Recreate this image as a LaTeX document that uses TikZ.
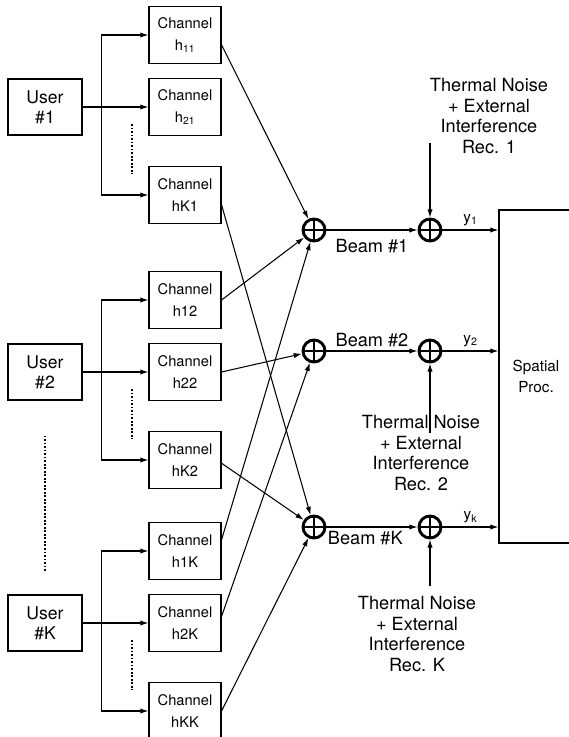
\documentclass[tikz,border=0pt]{standalone}
\usepackage{fontspec}
\setmainfont{TeX Gyre Heros}
\usetikzlibrary{shapes,arrows,arrows.meta,positioning}
\tikzstyle{user}  = [draw, minimum width=2.22cm, minimum height=1.68cm, align=center, font=\fontsize{15}{17}\selectfont]
\tikzstyle{chan}  = [draw, minimum width=2.16cm, minimum height=1.71cm, align=center, font=\fontsize{12.5}{18.5}\selectfont]
\tikzstyle{adder} = [draw, circle, line width=2.5pt, minimum size=0.66cm, inner sep=0pt, path picture={\draw [line width=1.9pt] (path picture bounding box.north) -- (path picture bounding box.south) (path picture bounding box.west) -- (path picture bounding box.east);}]
\tikzstyle{proc}  = [draw, minimum width=2.22cm, minimum height=9.99cm, align=center, font=\fontsize{13}{18.5}\selectfont]
\tikzstyle{noise} = [align=center, font=\fontsize{15.5}{17.5}\selectfont]
\tikzstyle{beam}  = [font=\fontsize{15.5}{17.5}\selectfont]
\tikzstyle{ylab}  = [font=\fontsize{13}{15}\selectfont]
\tikzstyle{line}  = [draw, -{Latex[length=7pt, width=4.5pt]}]
\tikzstyle{dots}  = [draw, line width=1.7pt, dash pattern=on 1.6pt off 1.4pt]

\begin{document}
\begin{tikzpicture}[auto, node distance=2.16cm, line width=0.9pt]
	\useasboundingbox (0,0) rectangle (17.07,-22.11);
	% Users and Channels %
	\node [user] (u1) at (1.35,-3.21) {User\\\#1};
	\node [chan, right of = u1, xshift=2.04cm] (h21) {Channel\\h\textsubscript{21}};
	\node [chan, above of = h21] (h11) {Channel\\h\textsubscript{11}};
	\node [chan, below of = h21, yshift=-0.48cm] (hK1) {Channel\\hK1};
	\node [user, below of = u1, yshift=-5.79cm] (u2) {User\\\#2};
	\node [chan, right of = u2, xshift=2.04cm] (h22) {Channel\\h22};
	\node [chan, above of = h22] (h12) {Channel\\h12};
	\node [chan, below of = h22, yshift=-0.48cm] (hK2) {Channel\\hK2};
	\node [user, below of = u2, yshift=-5.37cm] (uK) {User\\\#K};
	\node [chan, right of = uK, xshift=2.04cm] (h2K) {Channel\\h2K};
	\node [chan, above of = h2K] (h1K) {Channel\\h1K};
	\node [chan, below of = h2K, yshift=-0.48cm] (hKK) {Channel\\hKK};
	% Adders %
	\node [adder, right of = hK1, xshift=1.71cm, yshift=-1.05cm] (s1) {};
	\node [adder, right of = h22, xshift=1.71cm, yshift=0.63cm] (s2) {};
	\node [adder, right of = hK2, xshift=1.71cm, yshift=-2.01cm] (sK) {};
	\node [adder, right of = s1, xshift=1.32cm] (n1) {};
	\node [adder, right of = s2, xshift=1.32cm] (n2) {};
	\node [adder, right of = sK, xshift=1.32cm] (nK) {};
	\node [proc, right of = n2, xshift=1.02cm, yshift=-0.765cm] (proc) {Spatial\\Proc.};
	% Noise %
	\node [noise, above of = n1, xshift=1.77cm, yshift=1.26cm] (nz1) {Thermal Noise\\+ External\\Interference\\Rec. 1};
	\node [noise, below of = n2, xshift=-0.27cm, yshift=-0.9cm] (nz2) {Thermal Noise\\+ External\\Interference\\Rec. 2};
	\node [noise, below of = nK, xshift=-0.39cm, yshift=-1.05cm] (nzK) {Thermal Noise\\+ External\\Interference\\Rec. K};
	\coordinate [above of = n1, yshift=0.45cm] (t1);
	\coordinate [below of = n2, yshift=-0.3cm] (t2);
	\coordinate [below of = nK, yshift=0.39cm] (tK);
	% Fan out %
	\path [line] (u1.east) -- (h21.west);
	\path [line] (u1.east) -- ++(0.57,0) |- (h11.west);
	\path [line] (u1.east) -- ++(0.57,0) |- (hK1.west);
	\path [line] (u2.east) -- (h22.west);
	\path [line] (u2.east) -- ++(0.57,0) |- (h12.west);
	\path [line] (u2.east) -- ++(0.57,0) |- (hK2.west);
	\path [line] (uK.east) -- (h2K.west);
	\path [line] (uK.east) -- ++(0.57,0) |- (h1K.west);
	\path [line] (uK.east) -- ++(0.57,0) |- (hKK.west);
	\path [dots] ([xshift=1.47cm, yshift=-0.51cm]u1.east) -- ++(0,-1.5);
	\path [dots] ([xshift=1.47cm, yshift=-0.51cm]u2.east) -- ++(0,-1.5);
	\path [dots] ([xshift=1.47cm, yshift=-0.51cm]uK.east) -- ++(0,-1.5);
	\path [dots] ([yshift=-1.05cm]u2.south) -- ++(0,-4.05);
	% Connection %
	\path [line] (h11.-15) -- (s1);
	\path [line] (hK1.-15) -- (sK);
	\path [line] (h12.east) -- (s1);
	\path [line] (h22.east) -- (s2);
	\path [line] (hK2.-5) -- (sK);
	\path [line] (h1K.17) -- (s1);
	\path [line] (h2K.10) -- (s2);
	\path [line] (hKK.east) -- (sK);
	\path [line] (s1) -- node [beam, below, yshift=-0.15cm] {Beam \#1} (n1);
	\path [line] (s2) -- node [beam, above] {Beam \#2} (n2);
	\path [line] (sK) -- node [beam, below, xshift=-0.2cm] {Beam \#K} (nK);
	\path [line] (t1) -- (n1);
	\path [line] (t2) -- (n2);
	\path [line] (tK) -- (nK);
	\path [line] (n1) -- node [ylab, above] {y\textsubscript{1}} (n1 -| proc.west);
	\path [line] (n2) -- node [ylab, above] {y\textsubscript{2}} (n2 -| proc.west);
	\path [line] (nK) -- node [ylab, above] {y\textsubscript{k}} (nK -| proc.west);
\end{tikzpicture}
\end{document}
